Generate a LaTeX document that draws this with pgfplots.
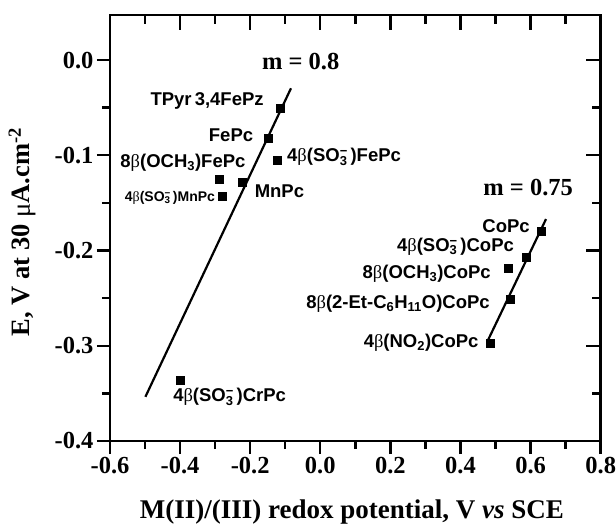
\documentclass[border=0pt]{standalone}
\usepackage{fontspec}
\setmainfont{Liberation Serif}
\newfontfamily\lab{Liberation Sans}
\usepackage{pgfplots}
\pgfplotsset{compat=1.18}
\newcommand\bet{{\rmfamily\mdseries β}}
\newcommand\sot{SO\rlap{\textsuperscript{−}}\textsubscript{3}\,}
\newcommand\lb{\lab\bfseries\fontsize{18.5bp}{20bp}\selectfont}
\newcommand\lbs{\lab\bfseries\fontsize{14bp}{16bp}\selectfont}
\newcommand\tb{\bfseries\fontsize{24.5bp}{28bp}\selectfont}
\begin{document}
\begin{tikzpicture}
\pgfplotsset{
  common/.style={
    scale only axis, width=490.7bp, height=425.7bp,
    xmin=-0.6, xmax=0.8, ymin=-0.4, ymax=0.047,
    xtick={-0.6,-0.4,-0.2,0,0.2,0.4,0.6,0.8},
    ytick={-0.4,-0.3,-0.2,-0.1,0},
    minor x tick num=1, minor y tick num=1,
    major tick length=13bp, minor tick length=8bp,
    every tick/.style={black, line width=2.4bp},
    every minor tick/.style={black, line width=2.4bp},
    axis line style={line width=2.4bp},
  }
}
\begin{axis}[common,
  tick align=outside,
  xtick pos=bottom, ytick pos=left,
  xticklabels={-0.6,-0.4,-0.2,0.0,0.2,0.4,0.6,0.8},
  yticklabels={-0.4,-0.3,-0.2,-0.1,0.0},
  ticklabel style={font=\tb},
  xlabel={M(II)/(III) redox potential, V \textit{vs} SCE},
  ylabel={E, V at 30 {\mdseries μ}A.cm\textsuperscript{-2}},
  xlabel style={font=\bfseries\fontsize{27bp}{30bp}\selectfont, at={(axis description cs:0.493,-0.1668)}, anchor=center},
  ylabel style={font=\bfseries\fontsize{26.5bp}{30bp}\selectfont, at={(axis description cs:-0.1793,0.491)}, anchor=center, rotate=0},
  clip=false,
]
\addplot[only marks, mark=square*, mark size=4bp, black] coordinates {
  (-0.115,-0.0507) (-0.150,-0.0822) (-0.124,-0.105) (-0.224,-0.128)
  (-0.289,-0.1253) (-0.280,-0.1425) (-0.401,-0.336)
  (0.629,-0.180) (0.587,-0.207) (0.535,-0.219) (0.541,-0.251) (0.484,-0.297)
};
\addplot[black, line width=2.2bp] coordinates {(-0.499,-0.3536) (-0.0836,-0.0296)};
\addplot[black, line width=2.2bp] coordinates {(0.476,-0.296) (0.644,-0.167)};
\node[font=\tb] at (axis cs:-0.056,-0.002) {m = 0.8};
\node[font=\tb] at (axis cs:0.593,-0.134) {m = 0.75};
\node[font=\lb, anchor=east, inner sep=0pt] at (axis cs:-0.161,-0.0425) {TPyr\,3,4FePz};
\node[font=\lb, anchor=east, inner sep=0pt] at (axis cs:-0.191,-0.0787) {FePc};
\node[font=\lb, anchor=west, inner sep=0pt] at (axis cs:-0.095,-0.102) {4\bet(\sot)FePc};
\node[font=\lb, anchor=east, inner sep=0pt] at (axis cs:-0.213,-0.108) {8\bet(OCH\textsubscript{3})FePc};
\node[font=\lb, anchor=west, inner sep=0pt] at (axis cs:-0.1875,-0.1375) {MnPc};
\node[font=\lbs, anchor=east, inner sep=0pt] at (axis cs:-0.300,-0.145) {4\bet(\sot)MnPc};
\node[font=\lb, anchor=west, inner sep=0pt] at (axis cs:-0.420,-0.354) {4\bet(\sot)CrPc};
\node[font=\lb, anchor=east, inner sep=0pt] at (axis cs:0.598,-0.174) {CoPc};
\node[font=\lb, anchor=east, inner sep=0pt] at (axis cs:0.553,-0.196) {4\bet(\sot)CoPc};
\node[font=\lb, anchor=east, inner sep=0pt] at (axis cs:0.487,-0.2247) {8\bet(OCH\textsubscript{3})CoPc};
\node[font=\lb, anchor=east, inner sep=0pt] at (axis cs:0.484,-0.256) {8\bet(2-Et-C\textsubscript{6}H\textsubscript{11}O)CoPc};
\node[font=\lb, anchor=east, inner sep=0pt] at (axis cs:0.452,-0.297) {4\bet(NO\textsubscript{2})CoPc};
\end{axis}
\begin{axis}[common,
  tick align=inside,
  xtick pos=top, ytick pos=right,
  xticklabels={}, yticklabels={},
  major tick length=14.5bp, minor tick length=8.5bp,
]
\end{axis}
\pgfresetboundingbox
\path[use as bounding box] (-110bp,-84bp) rectangle (506bp,441bp);
\end{tikzpicture}
\end{document}
